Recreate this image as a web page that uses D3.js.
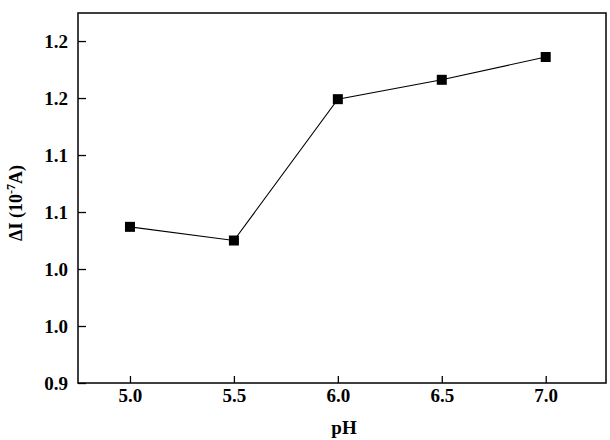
<!DOCTYPE html>
<html>
<head>
<meta charset="utf-8">
<script src="https://cdn.jsdelivr.net/npm/d3@7"></script>
<style>
  body { margin: 0; background: #fff; }
  text { font-family: "Liberation Serif", "Times New Roman", serif; font-weight: bold; }
</style>
</head>
<body>
<svg id="chart" width="610" height="440"></svg>
<script>
// pH values and measured current change
const phValues = [5.0, 5.5, 6.0, 6.5, 7.0];
const deltaI = [1.037, 1.025, 1.149, 1.166, 1.186];
const yTicks = [0.90, 0.95, 1.00, 1.05, 1.10, 1.15, 1.20];
// labels as printed in the original (one decimal, rounded half up)
const yTickLabels = ["0.9", "1.0", "1.0", "1.1", "1.1", "1.2", "1.2"];
const xTicks = [5.0, 5.5, 6.0, 6.5, 7.0];
const xTickLabels = ["5.0", "5.5", "6.0", "6.5", "7.0"];

const margin = { left: 78, right: 4, top: 13, bottom: 57 };
const W = 610, H = 440;

const svg = d3.select("#chart");

const x = d3.scaleLinear().domain([4.75, 7.29]).range([margin.left, W - margin.right]);
const y = d3.scaleLinear().domain([0.9, 1.2246]).range([H - margin.bottom, margin.top]);

// axes, ticks pointing inward
const xAxis = svg.append("g")
    .attr("transform", `translate(0,${H - margin.bottom})`)
    .call(d3.axisBottom(x).tickValues(xTicks).tickSizeInner(-7).tickSizeOuter(0).tickPadding(6)
        .tickFormat((d, i) => xTickLabels[i]));

const yAxis = svg.append("g")
    .attr("transform", `translate(${margin.left},0)`)
    .call(d3.axisLeft(y).tickValues(yTicks).tickSizeInner(-8).tickSizeOuter(0).tickPadding(10)
        .tickFormat((d, i) => yTickLabels[i]));

[xAxis, yAxis].forEach((g) => {
    g.attr("font-size", 19).attr("font-family", "'Liberation Serif', serif");
    g.select(".domain").remove();
    g.selectAll(".tick line").attr("stroke", "#000").attr("stroke-width", 1.3);
    g.selectAll(".tick text").attr("fill", "#000").style("font-weight", "bold");
});

// frame
svg.append("rect")
    .attr("x", margin.left).attr("y", margin.top)
    .attr("width", W - margin.right - margin.left)
    .attr("height", H - margin.bottom - margin.top)
    .attr("fill", "none").attr("stroke", "#000").attr("stroke-width", 1.5);

const data = phValues.map((p, i) => ({ p, v: deltaI[i] }));

svg.append("path")
    .datum(data)
    .attr("fill", "none")
    .attr("stroke", "#000")
    .attr("stroke-width", 1.1)
    .attr("d", d3.line().x((d) => x(d.p)).y((d) => y(d.v)));

const s = 10;
svg.selectAll("rect.pt")
    .data(data)
    .enter()
    .append("rect")
    .attr("class", "pt")
    .attr("x", (d) => x(d.p) - s / 2)
    .attr("y", (d) => y(d.v) - s / 2)
    .attr("width", s).attr("height", s)
    .attr("fill", "#000");

// axis titles
svg.append("text")
    .attr("x", (margin.left + W - margin.right) / 2 + 2)
    .attr("y", 434)
    .attr("text-anchor", "middle")
    .attr("font-size", 19)
    .text("pH");

const yt = svg.append("text")
    .attr("transform", "translate(22,203) rotate(-90)")
    .attr("text-anchor", "middle")
    .attr("font-size", 18);
yt.append("tspan").text("\u0394I (10");
yt.append("tspan").attr("dy", -7).attr("font-size", 12).text("-7");
yt.append("tspan").attr("dy", 7).text("A)");
</script>
</body>
</html>
